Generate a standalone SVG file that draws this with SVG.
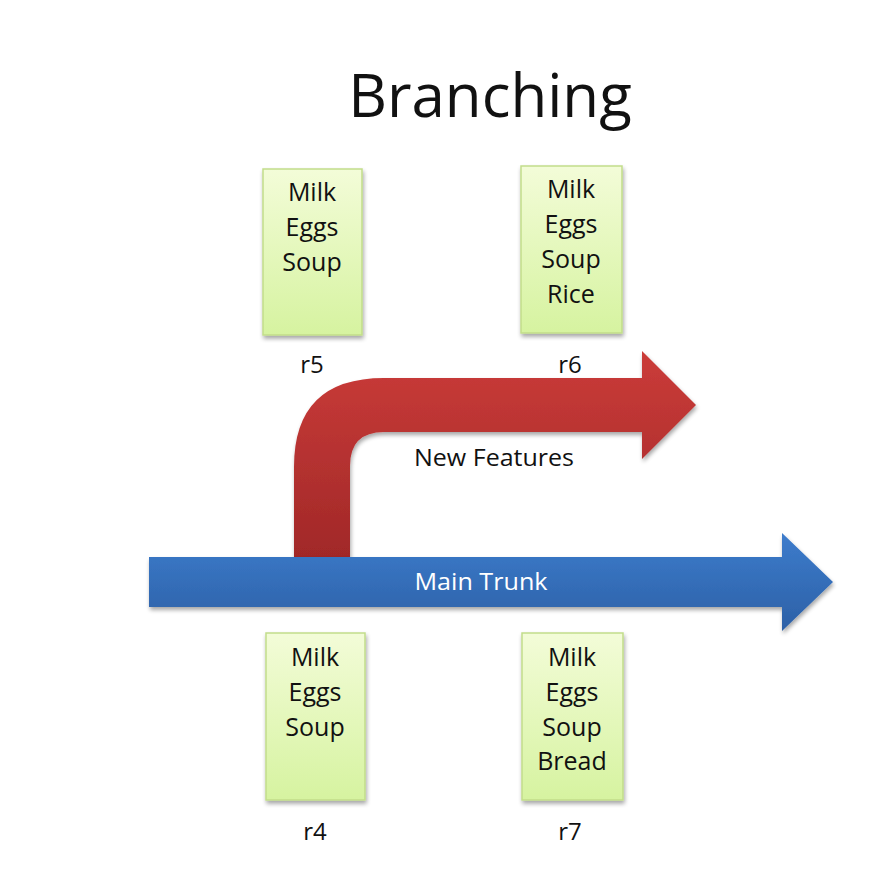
<svg xmlns="http://www.w3.org/2000/svg" width="885" height="874" viewBox="0 0 885 874">
<defs>
<linearGradient id="gBox" x1="0" y1="0" x2="0" y2="1"><stop offset="0" stop-color="#f3fcd8"/><stop offset="1" stop-color="#d6f3a0"/></linearGradient>
<linearGradient id="gRed" x1="0" y1="0" x2="0" y2="1"><stop offset="0" stop-color="#cb3c39"/><stop offset="1" stop-color="#a12828"/></linearGradient>
<linearGradient id="gBlue" x1="0" y1="0" x2="0" y2="1"><stop offset="0" stop-color="#3d7ccc"/><stop offset="1" stop-color="#2c60a6"/></linearGradient>
<filter id="sh" x="-10%" y="-10%" width="130%" height="130%"><feGaussianBlur in="SourceAlpha" stdDeviation="2"/><feOffset dx="1" dy="3"/><feComponentTransfer><feFuncA type="linear" slope="0.35"/></feComponentTransfer><feMerge><feMergeNode/><feMergeNode in="SourceGraphic"/></feMerge></filter>
</defs>
<style>
.box{fill:url(#gBox);stroke:#c2dd8a;stroke-width:1.5}
.t{font-family:"Open Sans","Liberation Sans",sans-serif;font-size:25px;fill:#111;text-anchor:middle}
.lbl{font-family:"Open Sans","Liberation Sans",sans-serif;font-size:24px;fill:#111;text-anchor:middle}
</style>
<rect width="885" height="874" fill="#fff"/>
<text x="490" y="117" font-family="Open Sans, Liberation Sans, sans-serif" font-size="60" fill="#111" text-anchor="middle">Branching</text>
<g id="connectors">
<path id="new-features" filter="url(#sh)" fill="url(#gRed)" d="M294,557 L294,467 Q294,378 384,378 L642,378 L642,351 L696,405 L642,459 L642,432 L384,432 Q350,432 350,466 L350,557 Z"/>
<path id="main-trunk" filter="url(#sh)" fill="url(#gBlue)" d="M149,557 L782,557 L782,533 L833,582 L782,631 L782,607 L149,607 Z"/>
<text x="481" y="590" font-family="Open Sans, Liberation Sans, sans-serif" font-size="24" fill="#fff" text-anchor="middle" textLength="133" lengthAdjust="spacingAndGlyphs">Main Trunk</text>
<text x="494" y="466" class="lbl" textLength="160" lengthAdjust="spacingAndGlyphs">New Features</text>
</g>
<g id="r5">
<rect class="box" x="263" y="169" width="99" height="166" filter="url(#sh)"/>
<text class="t" x="312" y="201">Milk</text><text class="t" x="312" y="236">Eggs</text><text class="t" x="312" y="271">Soup</text>
<text class="lbl" x="312" y="373">r5</text>
</g>
<g id="r6">
<rect class="box" x="521" y="166" width="101" height="167" filter="url(#sh)"/>
<text class="t" x="571" y="198">Milk</text><text class="t" x="571" y="233">Eggs</text><text class="t" x="571" y="268">Soup</text><text class="t" x="571" y="303">Rice</text>
<text class="lbl" x="570" y="373">r6</text>
</g>
<g id="r4">
<rect class="box" x="266" y="633" width="99" height="167" filter="url(#sh)"/>
<text class="t" x="315" y="666">Milk</text><text class="t" x="315" y="701">Eggs</text><text class="t" x="315" y="736">Soup</text>
<text class="lbl" x="315" y="840">r4</text>
</g>
<g id="r7">
<rect class="box" x="522" y="633" width="101" height="167" filter="url(#sh)"/>
<text class="t" x="572" y="666">Milk</text><text class="t" x="572" y="701">Eggs</text><text class="t" x="572" y="736">Soup</text><text class="t" x="572" y="770">Bread</text>
<text class="lbl" x="570" y="840">r7</text>
</g>
</svg>
